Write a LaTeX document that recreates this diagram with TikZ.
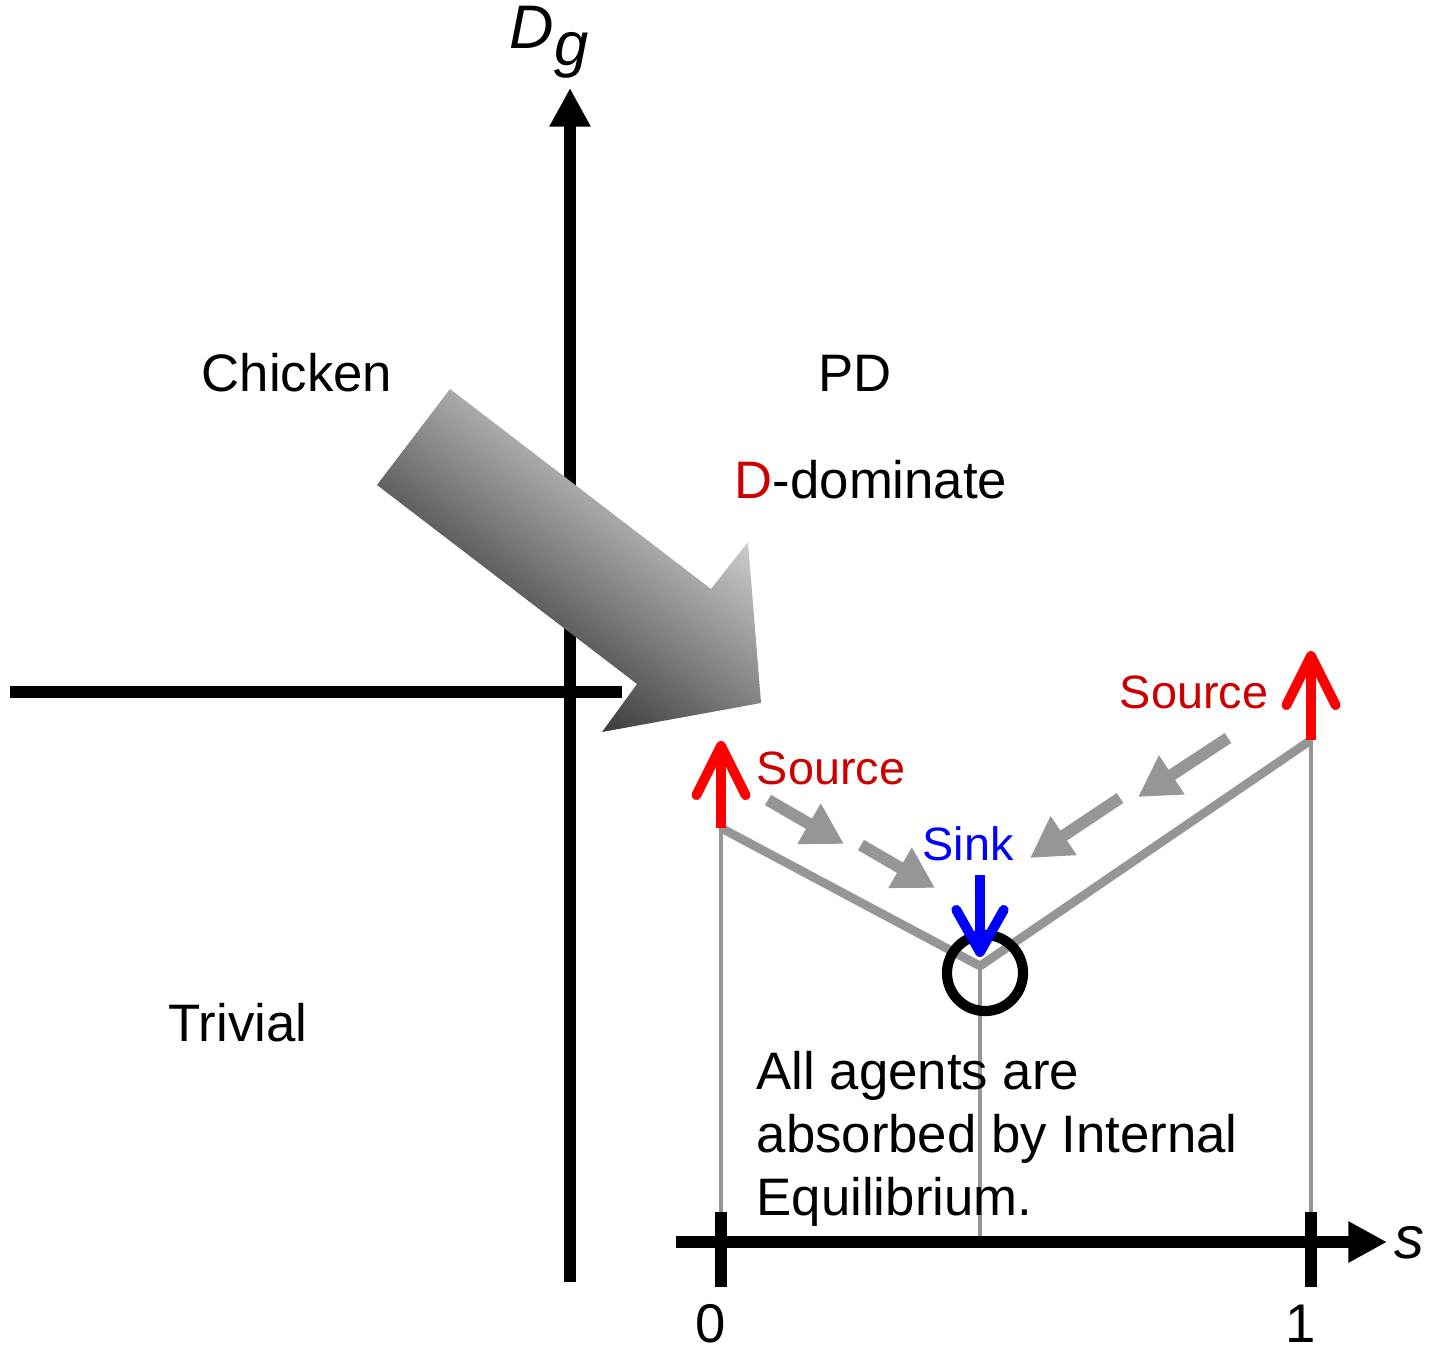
\documentclass[tikz,border=0pt]{standalone}
\usepackage{fontspec}
\setmainfont{Liberation Sans}
\usetikzlibrary{arrows.meta, positioning, shapes}
\definecolor{labelred}{RGB}{204, 0, 0}
\definecolor{arrowred}{RGB}{255, 0, 0}
\definecolor{sinkblue}{RGB}{0, 0, 255}
\definecolor{flowgray}{RGB}{150, 150, 150}

\begin{document}
\begin{tikzpicture}[
  x=0.01cm, y=-0.01cm,
  lbl/.style={inner sep=0pt, font=\fontsize{15}{17.9}\selectfont},
  smalllbl/.style={inner sep=0pt, font=\fontsize{13.3}{16}\selectfont},
  axisline/.style={line width=3.4pt},
  axisarrow/.style={axisline, -{Triangle[length=11pt, width=11pt]}},
  tickmark/.style={line width=3.4pt},
  thinline/.style={draw=flowgray, line width=1.4pt},
  vline/.style={draw=flowgray, line width=2.5pt, line join=bevel},
  srcarrow/.style={draw=arrowred, line width=2.8pt, -{Straight Barb[length=14pt, width=14pt, round]}},
  sinkarrow/.style={draw=sinkblue, line width=2.8pt, -{Straight Barb[length=12pt, width=13.5pt, round]}},
  flowarr/.style={draw=flowgray, line width=3.4pt, -{Triangle[length=11.5pt, width=12.5pt]}},
  eqcircle/.style={circle, draw, line width=2.9pt, minimum size=0.76cm, inner sep=0pt},
  bigarrow/.style={top color=black!6, bottom color=black!92, shading angle=-37}
]
  \useasboundingbox (0,0) rectangle (1431,1352);

  % phase line
  \coordinate (pL) at (721,828);
  \coordinate (pM) at (980,966);
  \coordinate (pR) at (1311,740);
  \draw[thinline] (pL) -- (721,1212);
  \draw[thinline] (pM) -- (980,1237);
  \draw[thinline] (pR) -- (1311,1212);
  \draw[vline] (pL) -- (pM) -- (pR);

  % axes
  \coordinate (ybot) at (570,1282);
  \coordinate (ytop) at (570,88);
  \coordinate (xleft) at (10,692);
  \coordinate (xright) at (622,692);
  \coordinate (sleft) at (676,1242);
  \coordinate (sright) at (1387,1242);
  \draw[axisarrow] (ybot) -- (ytop);
  \draw[axisline] (xleft) -- (xright);
  \draw[axisarrow] (sleft) -- (sright);
  \foreach \x/\lab in {721/0, 1311/1} {
    \draw[tickmark] (\x,1212) -- (\x,1287);
    \node[lbl, font=\fontsize{15.5}{18}\selectfont] (num\lab) at (\x-10,1324) {\lab};
  }
  \node[lbl, font=\fontsize{17.5}{20}\selectfont] (dglab) at (549,42) {\textit{D}\raisebox{-0.28em}{\textit{g}}};
  \node[lbl, font=\fontsize{17}{20}\selectfont] (slab) at (1409,1243) {\textit{s}};

  \coordinate (srcLtip) at (721,741);
  \coordinate (srcRtip) at (1311,651);
  \draw[srcarrow] (pL) -- (srcLtip);
  \draw[srcarrow] (pR) -- (srcRtip);

  \node[eqcircle] (eq) at (985,973) {};
  \coordinate (sinktop) at (980,875);
  \coordinate (sinktip) at (980,957);
  \draw[sinkarrow] (sinktop) -- (sinktip);

  % flow towards the sink
  \coordinate (fa1) at (768,800);  \coordinate (fb1) at (844,844);
  \coordinate (fa2) at (861,845);  \coordinate (fb2) at (935,888);
  \coordinate (fa3) at (1228,738); \coordinate (fb3) at (1138,797);
  \coordinate (fa4) at (1120,798); \coordinate (fb4) at (1030,858);
  \foreach \i in {1,...,4}
    \draw[flowarr] (fa\i) -- (fb\i);

  % big shaded arrow
  \shade[bigarrow] (450,389) -- (377,485) -- (637,684) -- (602,732)
    -- (761,703) -- (748,542) -- (711,589) -- cycle;

  % labels
  \node[lbl] (chicken) at (297,373) {Chicken};
  \node[lbl] (pd) at (855,373) {PD};
  \node[lbl] (ddom) at (871,480) {\textcolor{labelred}{D}-dominate};
  \node[lbl] (trivial) at (238,1023) {Trivial};
  \node[smalllbl, text=labelred] (srcL) at (831,768) {Source};
  \node[smalllbl, text=labelred] (srcR) at (1194,692) {Source};
  \node[smalllbl, text=sinkblue] (sink) at (968,844) {Sink};
  \node[lbl, anchor=north west, align=left] (note) at (756,1051)
    {All agents are\\absorbed by Internal\\Equilibrium.};
\end{tikzpicture}
\end{document}
